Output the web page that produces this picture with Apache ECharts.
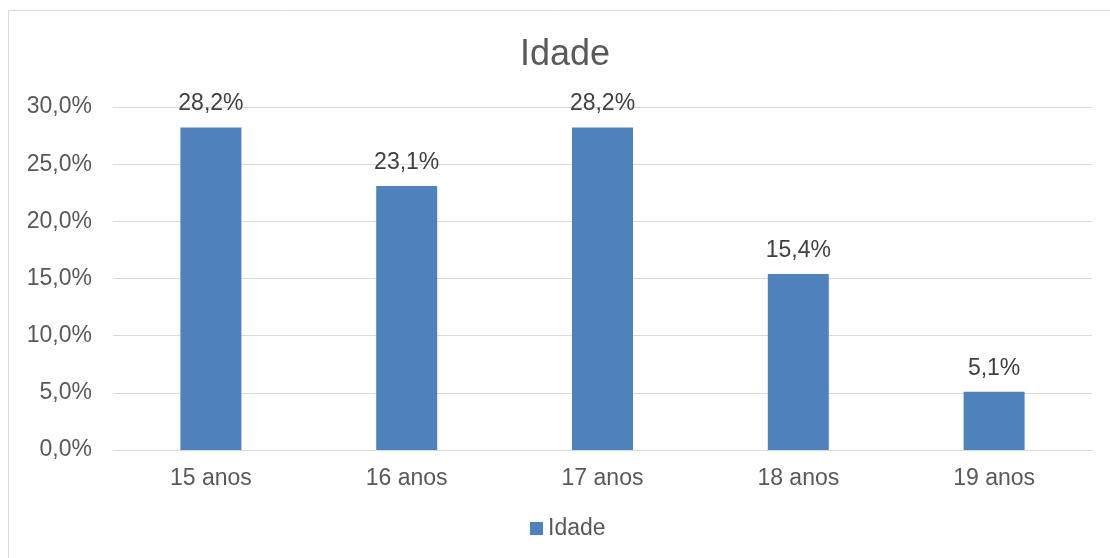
<!DOCTYPE html>
<html>
<head>
<meta charset="utf-8">
<script src="https://cdn.jsdelivr.net/npm/echarts@6/dist/echarts.min.js"></script>
<style>
  html, body { margin: 0; padding: 0; background: #fff; }
  #chart { width: 1110px; height: 558px; }
</style>
</head>
<body>
<div id="chart"></div>
<script>
const categories = ['15 anos', '16 anos', '17 anos', '18 anos', '19 anos'];
const idade = [28.2, 23.1, 28.2, 15.4, 5.1];
const seriesName = 'Idade';

const fmt = v => v.toFixed(1).replace('.', ',') + '%';

const chart = echarts.init(document.getElementById('chart'));
chart.setOption({
  animation: false,
  textStyle: { fontFamily: 'Liberation Sans, Arial, sans-serif' },
  graphic: [{
    type: 'rect',
    shape: { x: 8.5, y: 10.5, width: 1110, height: 560 },
    style: { fill: 'none', stroke: '#d9d9d9', lineWidth: 1 },
    silent: true
  }],
  title: {
    text: 'Idade',
    left: 515,
    top: 32,
    textStyle: { fontSize: 36, fontWeight: 'normal', color: '#595959' }
  },
  legend: {
    data: [seriesName],
    bottom: 13,
    left: 525,
    icon: 'rect',
    itemWidth: 13,
    itemHeight: 13,
    itemGap: 6,
    textStyle: { fontSize: 23, color: '#595959' }
  },
  grid: { left: 113, right: 18, top: 107, bottom: 108 },
  xAxis: {
    type: 'category',
    data: categories,
    axisLine: { lineStyle: { color: '#d9d9d9', width: 1 } },
    axisTick: { show: false },
    axisLabel: { fontSize: 23, color: '#595959', margin: 17 }
  },
  yAxis: {
    type: 'value',
    min: 0,
    max: 30,
    interval: 5,
    axisLine: { show: false },
    axisTick: { show: false },
    splitLine: { lineStyle: { color: '#d9d9d9', width: 1 } },
    axisLabel: { fontSize: 23, color: '#595959', margin: 21, formatter: fmt }
  },
  series: [{
    name: seriesName,
    type: 'bar',
    data: idade,
    barWidth: 61,
    itemStyle: { color: '#4f81bd' },
    label: {
      show: true,
      position: 'top',
      distance: 12,
      fontSize: 23,
      color: '#404040',
      formatter: p => fmt(p.value)
    }
  }]
});
</script>
</body>
</html>
